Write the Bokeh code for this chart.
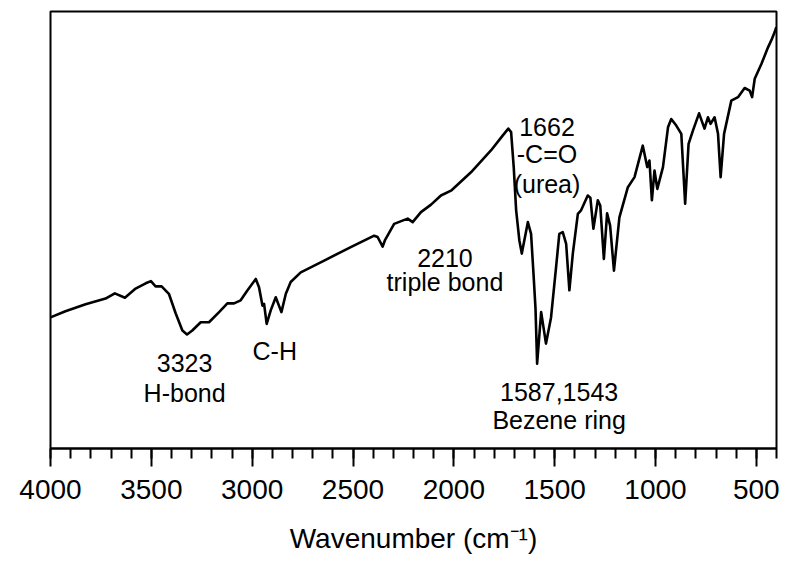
from bokeh.plotting import figure
from bokeh.models import Range1d, FixedTicker, ColumnDataSource
from bokeh.core.properties import value
from bokeh.embed import file_html
from bokeh.resources import INLINE

# FTIR spectrum (wavenumber in cm-1, transmittance in arbitrary units)
wavenumber = [4000, 3926, 3826, 3727, 3681, 3631, 3578, 3528, 3502, 3479, 3449, 3413,
              3379, 3346, 3323, 3297, 3255, 3214, 3164, 3123, 3090, 3057, 3023, 2982,
              2966, 2949, 2941, 2928, 2908, 2883, 2855, 2833, 2809, 2759, 2643, 2511,
              2395, 2378, 2353, 2342, 2296, 2229, 2204, 2163, 2113, 2064, 2014, 1915,
              1816, 1758, 1730, 1716, 1703, 1691, 1675, 1663, 1633, 1617, 1605, 1595,
              1587, 1567, 1543, 1518, 1493, 1477, 1460, 1443, 1427, 1410, 1385, 1369,
              1336, 1323, 1308, 1286, 1274, 1256, 1240, 1225, 1206, 1179, 1137, 1104,
              1063, 1041, 1030, 1018, 1005, 991, 963, 938, 922, 897, 872, 853, 836,
              814, 784, 757, 740, 727, 707, 690, 677, 660, 624, 591, 558, 533, 521,
              508, 475, 442, 422, 409, 401]
transmittance = [30.0, 31.4, 33.0, 34.3, 35.5, 34.5, 36.6, 37.8, 38.3, 37.1, 37.1, 35.4,
                 30.9, 27.0, 26.1, 27.0, 28.9, 28.9, 31.2, 33.2, 33.2, 33.9, 36.2, 38.8,
                 36.9, 32.7, 33.1, 28.5, 31.6, 34.6, 31.2, 35.4, 38.1, 40.3, 43.0, 46.1,
                 48.7, 48.4, 46.2, 47.6, 51.4, 52.6, 51.8, 54.1, 55.8, 57.9, 59.0, 63.2,
                 68.2, 71.6, 73.2, 72.4, 64.4, 54.5, 47.6, 44.6, 51.8, 49.1, 40.0, 32.0,
                 19.4, 31.2, 24.0, 30.0, 41.5, 49.1, 49.5, 46.8, 36.2, 44.6, 53.7, 54.5,
                 57.9, 57.4, 50.3, 56.8, 55.6, 43.4, 53.8, 51.0, 40.7, 52.9, 59.8, 62.1,
                 69.3, 64.4, 65.9, 56.8, 63.6, 59.4, 64.4, 73.5, 75.4, 73.9, 72.0, 56.0, 69.7,
                 72.8, 76.7, 73.2, 75.8, 74.3, 75.8, 72.0, 62.1, 72.0, 79.6, 80.4, 82.5, 81.9, 80.4,
                 84.6, 88.0, 91.8, 93.8, 95.3, 96.4]

major_ticks = [4000, 3500, 3000, 2500, 2000, 1500, 1000, 500]
minor_ticks = list(range(400, 4001, 100))

ann_x = [3335, 3335, 2888, 2044, 2044, 1538, 1538, 1538, 1478, 1478]
ann_y = [19.5, 12.8, 22.4, 43.5, 38.0, 73.5, 67.3, 60.6, 13.0, 6.6]
ann_text = ["3323", "H-bond", "C-H", "2210", "triple bond", "1662", "-C=O", "(urea)",
            "1587,1543", "Bezene ring"]

p = figure(width=792, height=548, frame_width=726, frame_height=437,
           x_range=Range1d(4000, 400), y_range=Range1d(0, 100),
           y_axis_location=None, toolbar_location=None, output_backend="svg",
           min_border_left=50, min_border_right=16, min_border_top=11, min_border_bottom=100)

p.line(wavenumber, transmittance, line_color="black", line_width=2.6, line_join="round")

src = ColumnDataSource(dict(x=ann_x, y=ann_y, t=ann_text))
p.text(x="x", y="y", text="t", source=src, text_align="center", text_baseline="middle",
       text_font=value("Liberation Sans"), text_font_size="25px", text_color="black")

p.grid.visible = False
p.outline_line_color = "black"
p.outline_line_width = 2
p.background_fill_color = "white"
p.border_fill_color = "white"

ax = p.xaxis[0]
ax.ticker = FixedTicker(ticks=major_ticks, minor_ticks=minor_ticks)
ax.axis_label = "Wavenumber (cm\u207b\u00b9)"
ax.axis_label_text_font = "Liberation Sans"
ax.axis_label_text_font_size = "28px"
ax.axis_label_text_font_style = "normal"
ax.axis_label_text_color = "black"
ax.axis_label_standoff = 21
ax.major_label_text_font = "Liberation Sans"
ax.major_label_text_font_size = "28px"
ax.major_label_text_color = "black"
ax.major_label_standoff = 13
ax.axis_line_width = 2
ax.axis_line_color = "black"
ax.major_tick_line_width = 2
ax.minor_tick_line_width = 2
ax.major_tick_line_color = "black"
ax.minor_tick_line_color = "black"
ax.major_tick_out = 18
ax.major_tick_in = 0
ax.minor_tick_out = 10
ax.minor_tick_in = 0

open("out.html", "w").write(file_html(p, INLINE))
